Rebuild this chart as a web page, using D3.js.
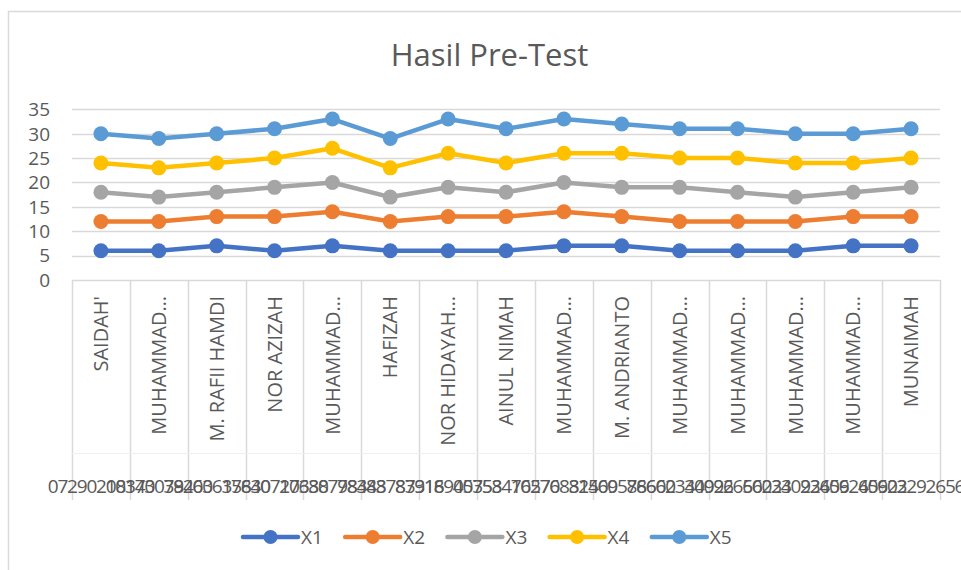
<html lang="en">
<head>
<meta charset="utf-8">
<title>Hasil Pre-Test</title>
<style>
  body { margin: 0; padding: 0; background: white; }
  svg { display: block; background: white; }
  text { font-family: "Open Sans", "Noto Sans", sans-serif; fill: #595959; }
</style>
</head>
<body>
<div id="chart"></div>
<script src="https://d3js.org/d3.v7.min.js"></script>
<script>
// category names (inner level) and student ids (outer level)
var names = ["SAIDAH'", "MUHAMMAD…", "M. RAFII HAMDI", "NOR AZIZAH", "MUHAMMAD…", "HAFIZAH",
             "NOR HIDAYAH…", "AINUL NIMAH", "MUHAMMAD…", "M. ANDRIANTO", "MUHAMMAD…", "MUHAMMAD…",
             "MUHAMMAD…", "MUHAMMAD…", "MUNAIMAH"];
var ids = ["07290208170", "10343078460", "39203615630", "37840720338", "17680798448", "78383787316",
           "83918905753", "40358416570", "70276831509", "82460578660", "86602340926", "34092656023",
           "60234092656", "23409265602", "40923292656"];
var seriesNames = ["X1", "X2", "X3", "X4", "X5"];
// per-series values (chart is stacked)
var x1 = [6, 6, 7, 6, 7, 6, 6, 6, 7, 7, 6, 6, 6, 7, 7];
var x2 = [6, 6, 6, 7, 7, 6, 7, 7, 7, 6, 6, 6, 6, 6, 6];
var x3 = [6, 5, 5, 6, 6, 5, 6, 5, 6, 6, 7, 6, 5, 5, 6];
var x4 = [6, 6, 6, 6, 7, 6, 7, 6, 6, 7, 6, 7, 7, 6, 6];
var x5 = [6, 6, 6, 6, 6, 6, 7, 7, 7, 6, 6, 6, 6, 6, 6];
var yTicks = [0, 5, 10, 15, 20, 25, 30, 35];
var colors = ["#4472C4", "#ED7D31", "#A5A5A5", "#FFC000", "#5B9BD5"];

var width = 961, height = 570;

var svg = d3.select("#chart").append("svg")
    .attr("width", width)
    .attr("height", height);

// chart area border (runs past the picture on the right and bottom)
svg.append("rect")
    .attr("x", 8.5).attr("y", 11.5)
    .attr("width", 962).attr("height", 600)
    .attr("fill", "none")
    .attr("stroke", "#D9D9D9")
    .attr("stroke-width", 1.5);

svg.append("text")
    .attr("x", 489.5).attr("y", 66)
    .attr("text-anchor", "middle")
    .style("font-size", "31px")
    .text("Hasil Pre-Test");

var rows = names.map(function(n, i) {
    return { i: i, X1: x1[i], X2: x2[i], X3: x3[i], X4: x4[i], X5: x5[i] };
});
var stacked = d3.stack().keys(seriesNames)(rows);

var x = d3.scaleBand().domain(d3.range(names.length)).range([72, 940]).padding(0);
var y = d3.scaleLinear().domain([0, 35]).range([280, 109.3]);

// gridlines
svg.append("g").selectAll("line")
    .data(yTicks)
    .enter().append("line")
    .attr("x1", 72).attr("x2", 940)
    .attr("y1", function(d) { return Math.round(y(d)) + 0.5; })
    .attr("y2", function(d) { return Math.round(y(d)) + 0.5; })
    .attr("stroke", "#D9D9D9")
    .attr("stroke-width", 1.5);

// y tick labels
svg.append("g").selectAll("text")
    .data(yTicks)
    .enter().append("text")
    .attr("x", 50)
    .attr("y", function(d) { return y(d); })
    .attr("dy", "0.36em")
    .attr("text-anchor", "end")
    .style("font-size", "19px")
    .text(function(d) { return d; });

// category separators
var bounds = d3.range(names.length + 1).map(function(i) {
    return i < names.length ? x(i) : x.range()[1];
});
svg.append("g").selectAll("line")
    .data(bounds)
    .enter().append("line")
    .attr("x1", function(d) { return Math.round(d) + 0.5; })
    .attr("x2", function(d) { return Math.round(d) + 0.5; })
    .attr("y1", 280).attr("y2", 500)
    .attr("stroke", "#D9D9D9")
    .attr("stroke-width", 1.5);

svg.append("line")
    .attr("x1", 72).attr("x2", 940)
    .attr("y1", 453.5).attr("y2", 453.5)
    .attr("stroke", "#F0F0F0")
    .attr("stroke-width", 1);

// inner level: names, rotated
svg.append("g").selectAll("text")
    .data(names)
    .enter().append("text")
    .attr("transform", function(d, i) {
        return "translate(" + (x(i) + x.bandwidth() / 2) + ",296) rotate(-90)";
    })
    .attr("dy", "0.36em")
    .attr("text-anchor", "end")
    .style("font-size", "20px")
    .text(function(d) { return d; });

// outer level: ids (they overlap, as in the original)
svg.append("g").selectAll("text")
    .data(ids)
    .enter().append("text")
    .attr("x", function(d, i) { return x(i) + x.bandwidth() / 2; })
    .attr("y", 493)
    .attr("text-anchor", "middle")
    .style("font-size", "19px")
    .style("letter-spacing", "-1.2px")
    .text(function(d) { return d; });

// lines + markers
var line = d3.line()
    .x(function(d) { return x(d.data.i) + x.bandwidth() / 2; })
    .y(function(d) { return y(d[1]); });

var series = svg.append("g").selectAll("g")
    .data(stacked)
    .enter().append("g");

series.append("path")
    .attr("d", line)
    .attr("fill", "none")
    .attr("stroke", function(d, i) { return colors[i]; })
    .attr("stroke-width", 4.5)
    .attr("stroke-linejoin", "round")
    .attr("stroke-linecap", "round");

series.selectAll("circle")
    .data(function(d, i) { return d.map(function(p) { return { p: p, c: colors[i] }; }); })
    .enter().append("circle")
    .attr("cx", function(d) { return x(d.p.data.i) + x.bandwidth() / 2; })
    .attr("cy", function(d) { return y(d.p[1]); })
    .attr("r", 7.5)
    .attr("fill", function(d) { return d.c; });

// legend
var legend = svg.append("g").selectAll("g")
    .data(seriesNames)
    .enter().append("g")
    .attr("transform", function(d, i) { return "translate(" + (243 + i * 102.2) + ",537)"; });

legend.append("line")
    .attr("x1", 0).attr("x2", 55)
    .attr("stroke", function(d, i) { return colors[i]; })
    .attr("stroke-width", 4.5)
    .attr("stroke-linecap", "round");

legend.append("circle")
    .attr("cx", 27.5).attr("r", 7)
    .attr("fill", function(d, i) { return colors[i]; });

legend.append("text")
    .attr("x", 58)
    .attr("dy", "0.36em")
    .style("font-size", "19px")
    .text(function(d) { return d; });
</script>
</body>
</html>
